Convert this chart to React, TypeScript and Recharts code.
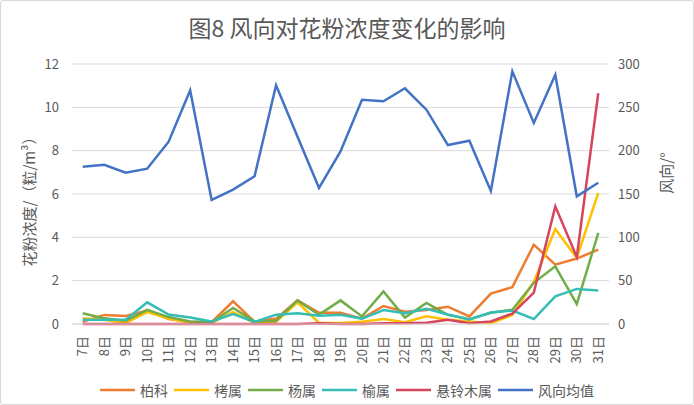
import React from 'react';
import { ComposedChart, Line, XAxis, YAxis, CartesianGrid } from 'recharts';

const days = ['7日','8日','9日','10日','11日','12日','13日','14日','15日','16日','17日','18日','19日','20日','21日','22日','23日','24日','25日','26日','27日','28日','29日','30日','31日'];

const baike = [0.1,0.42,0.37,0.62,0.23,0.1,0.08,1.05,0.1,0.25,1.1,0.52,0.52,0.25,0.83,0.57,0.65,0.8,0.35,1.4,1.7,3.66,2.74,3.02,3.43];
const kaoshu = [0.26,0.2,0.05,0.55,0.25,0.05,0.05,0.55,0.05,0.1,1.0,0.05,0.05,0.1,0.23,0.08,0.36,0.2,0.12,0.03,0.42,1.95,4.38,3.05,6.05];
const yangshu = [0.5,0.26,0.15,0.65,0.32,0.12,0.08,0.74,0.12,0.15,1.09,0.43,1.09,0.35,1.5,0.3,0.97,0.42,0.22,0.52,0.66,1.9,2.66,0.92,4.2];
const yushu = [0.2,0.2,0.2,1.0,0.44,0.3,0.12,0.46,0.1,0.43,0.5,0.38,0.43,0.25,0.64,0.5,0.7,0.44,0.21,0.53,0.62,0.23,1.28,1.62,1.55];
const xuanlingmu = [0,0,0,0,0,0,0,0,0,0,0,0.03,0,0,0.03,0.03,0.06,0.2,0.03,0.12,0.48,1.45,5.43,3.09,10.65];
const windDir = [181.5,183.8,174.6,179.2,210.4,269.6,143.1,155,170.4,275.4,216,157,199.2,258.8,257,272,247.3,206.5,211.5,153.5,291.5,232,287.7,147.3,163];

const leftTicks = [0,2,4,6,8,10,12];
const rightTicks = [0,50,100,150,200,250,300];

const series = [
  { key: 'baike', name: '柏科', color: '#ED7D31', axis: 'left' },
  { key: 'kaoshu', name: '栲属', color: '#FFC000', axis: 'left' },
  { key: 'yangshu', name: '杨属', color: '#70AD47', axis: 'left' },
  { key: 'yushu', name: '榆属', color: '#36BDB6', axis: 'left' },
  { key: 'xuanlingmu', name: '悬铃木属', color: '#D6455E', axis: 'left' },
  { key: 'windDir', name: '风向均值', color: '#4472C4', axis: 'right' },
];

const data = days.map((d, i) => ({
  day: d,
  baike: baike[i],
  kaoshu: kaoshu[i],
  yangshu: yangshu[i],
  yushu: yushu[i],
  xuanlingmu: xuanlingmu[i],
  windDir: windDir[i],
}));

const FONT = '"Noto Sans CJK SC", "Noto Sans", sans-serif';
const TXT = '#595959';

const XTick = (props: any) => {
  const { x, y, payload } = props;
  return (
    <text x={x} y={y} transform={`rotate(-90, ${x}, ${y})`} textAnchor="end" dy="0.35em" fontSize={13} fill={TXT} fontFamily={FONT}>
      {payload.value}
    </text>
  );
};

const LeftTitle = () => (
  <text x={28} y={198} transform="rotate(-90, 28, 198)" textAnchor="middle" dominantBaseline="central" fontSize={15} fill={TXT} fontFamily={FONT}>
    花粉浓度/（粒/m³）
  </text>
);

const RightTitle = () => (
  <text x={665} y={173} transform="rotate(-90, 665, 173)" textAnchor="middle" dominantBaseline="central" fontSize={15} fill={TXT} fontFamily={FONT}>
    风向/°
  </text>
);

export default function App() {
  return (
    <div style={{ position: 'absolute', left: 0, top: 0, width: 694, height: 405, background: '#fff', fontFamily: FONT }}>
      <div style={{ position: 'absolute', left: 0, top: 0, width: 694, height: 405, boxSizing: 'border-box', border: '1px solid #d9d9d9', borderRadius: 3 }} />
      <div style={{ position: 'absolute', left: 0, top: 12, width: 694, textAlign: 'center', fontSize: 23, color: TXT, lineHeight: '30px' }}>
        图8 风向对花粉浓度变化的影响
      </div>
      <div style={{ position: 'absolute', left: 0, top: 0 }}>
        <ComposedChart width={694} height={405} data={data} margin={{ top: 64, right: 0, bottom: 0, left: 0 }}>
          <CartesianGrid yAxisId="left" vertical={false} stroke="#d9d9d9" />
          <XAxis dataKey="day" scale="band" interval={0} height={81} tickLine={false} tickSize={0} tickMargin={12} axisLine={{ stroke: '#d9d9d9' }} tick={<XTick />} />
          <YAxis yAxisId="left" orientation="left" width={72} domain={[0, 12]} ticks={leftTicks} axisLine={false} tickLine={false} tickSize={0} tickMargin={13} tick={{ fontSize: 13, fill: TXT, fontFamily: FONT }} label={<LeftTitle />} />
          <YAxis yAxisId="right" orientation="right" width={85} domain={[0, 300]} ticks={rightTicks} axisLine={false} tickLine={false} tickSize={0} tickMargin={9} tick={{ fontSize: 13, fill: TXT, fontFamily: FONT, textAnchor: 'start' }} label={<RightTitle />} />
          {series.map((s) => (
            <Line key={s.key} yAxisId={s.axis} type="linear" dataKey={s.key} name={s.name} stroke={s.color} strokeWidth={2.5} dot={false} activeDot={false} isAnimationActive={false} />
          ))}
        </ComposedChart>
      </div>
      <div style={{ position: 'absolute', left: 0, top: 380, width: 694, display: 'flex', justifyContent: 'center', alignItems: 'center', fontSize: 14, color: TXT, lineHeight: '20px' }}>
        {series.map((s, i) => (
          <div key={s.key} style={{ display: 'flex', alignItems: 'center', marginLeft: i === 0 ? 0 : 6 }}>
            <svg width={35} height={4} style={{ display: 'block' }}>
              <line x1={0} y1={2} x2={35} y2={2} stroke={s.color} strokeWidth={2.5} />
            </svg>
            <span style={{ marginLeft: 5 }}>{s.name}</span>
          </div>
        ))}
      </div>
    </div>
  );
}
